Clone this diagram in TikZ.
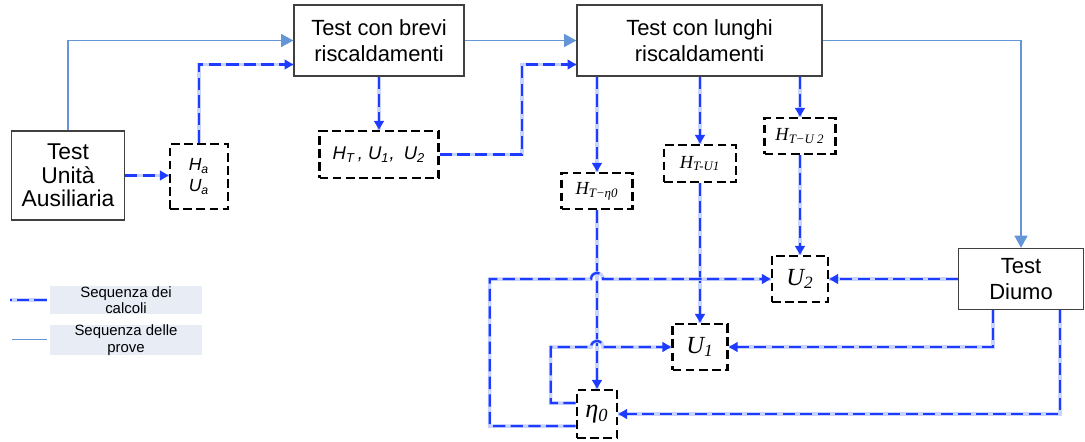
\documentclass[tikz,border=0pt]{standalone}
\usepackage{fontspec}
\setmainfont{Liberation Sans}
\newfontfamily\serf{Liberation Serif}
\usetikzlibrary{positioning,calc,arrows.meta}

\definecolor{provecol}{RGB}{100,150,215}
\definecolor{calccol}{RGB}{30,60,255}
\definecolor{calclight}{RGB}{200,212,255}
\definecolor{legfill}{RGB}{232,236,244}

\newcommand{\lo}[1]{\textsubscript{#1}}

\tikzset{
  testbox/.style={draw=black!75,line width=0.8pt,align=center,inner sep=1pt,
    font=\fontsize{12.5}{15}\selectfont},
  calcbox/.style={draw=black,line width=1.5pt,dash pattern=on 5pt off 2.5pt,
    align=center,inner sep=1pt},
  prove/.style={draw=provecol,line width=0.7pt,-{Triangle[length=7pt,width=7.5pt]}},
  calcoli/.style={draw=calccol,line width=1.3pt,dash pattern=on 7pt off 3pt,
    -{Triangle[length=5pt,width=5.5pt]},
    preaction={draw=calclight,line width=2pt,solid,-}},
  legbox/.style={fill=legfill,align=center,minimum width=3.04cm,minimum height=0.52cm,
    inner sep=0pt,font=\fontsize{8.5}{9.5}\selectfont}
}

\begin{document}
\begin{tikzpicture}[x=0.02cm,y=-0.02cm]
  \useasboundingbox (0,0) rectangle (1085,441);

  % prove
  \node[testbox,minimum width=2.26cm,minimum height=1.78cm,font=\fontsize{13}{13.5}\selectfont]
    (aux) at (68,175.5) {Test\\Unità\\Ausiliaria};
  \node[testbox,minimum width=3.4cm,minimum height=1.42cm] (brevi) at (379,40.5)
    {Test con brevi\\riscaldamenti};
  \node[testbox,minimum width=4.9cm,minimum height=1.42cm] (lunghi) at (699.5,40.5)
    {Test con lunghi\\riscaldamenti};
  \node[testbox,minimum width=2.5cm,minimum height=1.22cm] (diurno) at (1021,279)
    {Test\\Diumo};

  % calcoli
  \node[calcbox,minimum width=1.16cm,minimum height=1.3cm,font=\fontsize{10}{12}\selectfont]
    (ha) at (199,176.5) {\textit{H\lo{a}}\\\textit{U\lo{a}}};
  \node[calcbox,minimum width=2.38cm,minimum height=0.94cm,font=\fontsize{10.5}{12}\selectfont]
    (ht) at (379,154.5) {\textit{H\lo{T}\,, U\lo{1},\enspace U\lo{2}}};
  \node[calcbox,minimum width=1.42cm,minimum height=0.72cm,font=\serf\itshape\fontsize{10.5}{12}\selectfont]
    (heta) at (597,191) {H\lo{T−η0}};
  \node[calcbox,minimum width=1.44cm,minimum height=0.74cm,font=\serf\itshape\fontsize{10.5}{12}\selectfont]
    (hu1) at (700,163.5) {H\lo{T-U1}};
  \node[calcbox,minimum width=1.42cm,minimum height=0.72cm,font=\serf\itshape\fontsize{10.5}{12}\selectfont]
    (hu2) at (800,136) {H\lo{T−U 2}};
  \node[calcbox,minimum width=1.12cm,minimum height=0.92cm,font=\serf\itshape\fontsize{14}{16}\selectfont]
    (u2) at (800,279) {U\lo{2}};
  \node[calcbox,minimum width=1.1cm,minimum height=0.92cm,font=\serf\itshape\fontsize{14}{16}\selectfont]
    (u1) at (700,347) {U\lo{1}};
  \node[calcbox,minimum width=0.8cm,minimum height=0.96cm,font=\serf\itshape\fontsize{15}{16}\selectfont]
    (eta) at (597,414) {η\lo{0}};

  % legenda
  \node[legbox] (leg1) at (126,300) {Sequenza dei\\calcoli};
  \node[legbox,below=0.2cm of leg1] (leg2) {Sequenza delle\\prove};
  \draw[calcoli,-] ([xshift=-0.06cm]leg1.west) -- ++(-37,0);
  \draw[prove,-] ([xshift=-0.06cm]leg2.west) -- ++(-35,0);

  % sequenza delle prove
  \draw[prove] (aux.north) |- (brevi.west);
  \draw[prove] (brevi) -- (lunghi);
  \draw[prove] (lunghi.east) -| (diurno.north);

  % sequenza dei calcoli
  \draw[calcoli] (aux.east) -- (aux.east -| ha.west);
  \draw[calcoli] (ha.north) |- ([yshift=-0.48cm]brevi.west);
  \draw[calcoli] (brevi.south) -- (ht.north);
  \draw[calcoli] (ht.east) -- ++(82,0) |- ([yshift=-0.48cm]lunghi.west);
  \draw[calcoli] (heta.north |- lunghi.south) -- (heta.north);
  \draw[calcoli] (hu1.north |- lunghi.south) -- (hu1.north);
  \draw[calcoli] (hu2.north |- lunghi.south) -- (hu2.north);
  \draw[calcoli] (hu2.south) -- (u2.north);
  \draw[calcoli] (hu1.south) -- (u1.north);
  \draw[calcoli] (heta.south) -- (eta.north);
  \draw[calcoli] (diurno) -- (u2.east);
  \draw[calcoli] ([xshift=-0.56cm]diurno.south) |- (u1.east);
  \draw[calcoli] ([xshift=0.78cm]diurno.south) |- (eta.east);
  \draw[calcoli] ([yshift=-0.24cm]eta.west) -- ++(-86,0)
    |- ($(heta.south |- u2.west)+(-0.12cm,0)$) arc[start angle=180,end angle=0,radius=0.12cm]
    -- (u2.west);
  \draw[calcoli] ([yshift=0.22cm]eta.west) -- ++(-25,0)
    |- ($(heta.south |- u1.west)+(-0.12cm,0)$) arc[start angle=180,end angle=0,radius=0.12cm]
    -- (u1.west);
\end{tikzpicture}
\end{document}
